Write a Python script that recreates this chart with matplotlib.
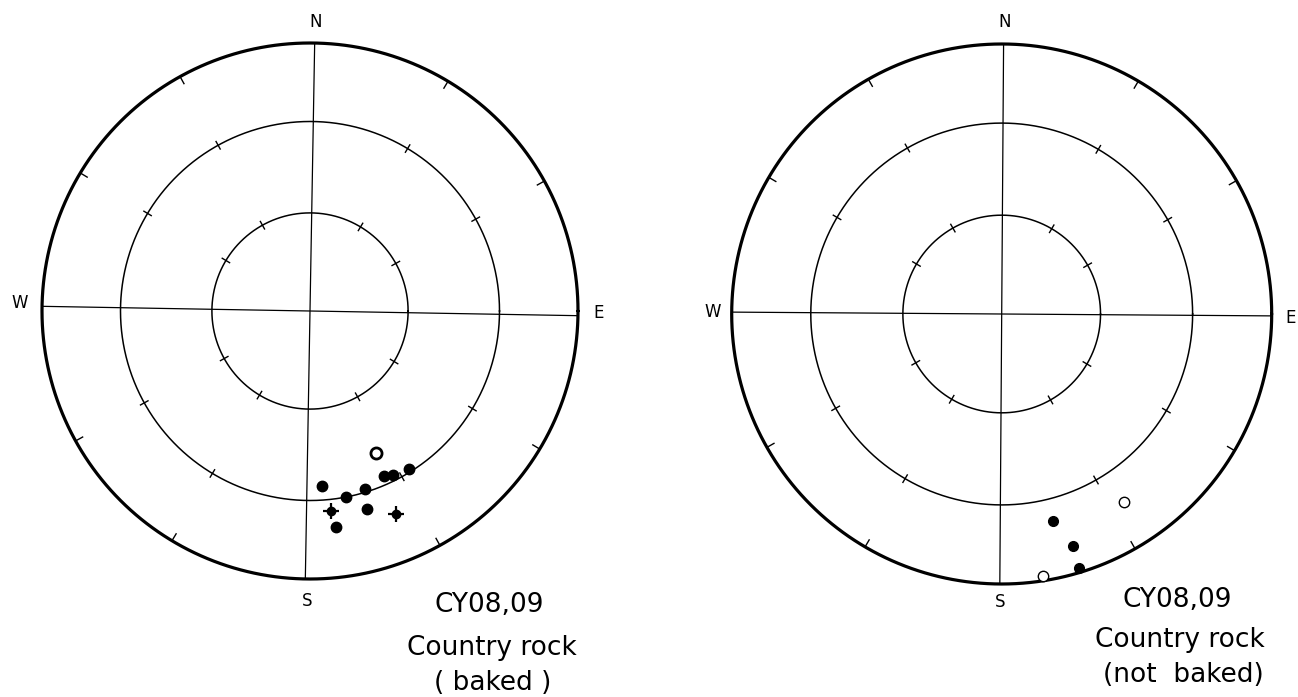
import numpy as np
import matplotlib
matplotlib.use("Agg")
import matplotlib.pyplot as plt

# ---------------- data (declination, inclination in degrees) ----------------
# Left net: CY08,09 country rock (baked)
baked_dec = [155, 156, 153, 148, 176, 163, 169, 164, 173]
baked_inc = [-41, 33, 32, 31, 35, 31, 30, 24, 20]          # negative = upper hemisphere (open)
baked_mean_dec = [174, 157]                                  # dot with cross
baked_mean_inc = [26, 19]

# Right net: CY08,09 country rock (not baked)
notbaked_dec = [147, 166, 163, 163, 171]
notbaked_inc = [-18, 22, 11, 2, -2]

cardinals = ["N", "E", "S", "W"]
titles = [["CY08,09", "Country rock", "( baked )"],
          ["CY08,09", "Country rock", "(not  baked)"]]

# ---------------- figure ----------------
W, H = 1298, 697
fig = plt.figure(figsize=(W / 100, H / 100), dpi=100)
fig.patch.set_facecolor("white")


def eqarea(dec, inc):
    dec = np.radians(np.asarray(dec, float))
    inc = np.abs(np.asarray(inc, float))
    r = np.sqrt(2.0) * np.sin(np.radians(90.0 - inc) / 2.0)
    return r * np.sin(dec), r * np.cos(dec)


def make_net(cx, cy, R, rot):
    span = 1.25
    ax = fig.add_axes([(cx - span * R) / W, (H - cy - span * R) / H,
                       2 * span * R / W, 2 * span * R / H])
    ax.set_xlim(-span, span)
    ax.set_ylim(-span, span)
    ax.set_aspect("equal")
    ax.axis("off")
    t = np.linspace(0, 2 * np.pi, 721)
    # outer primitive
    ax.plot(np.cos(t), np.sin(t), color="black", lw=2.3, solid_capstyle="round")
    # 30 and 60 degree inclination circles (equal-area)
    for inc in (30, 60):
        r = np.sqrt(2.0) * np.sin(np.radians(90 - inc) / 2)
        ax.plot(r * np.cos(t), r * np.sin(t), color="black", lw=1.1)
    # cross lines (scan is slightly rotated clockwise)
    a = np.radians(rot)
    for ang in (0, 90):
        th = np.radians(ang) + a
        ax.plot([-np.sin(th), np.sin(th)], [-np.cos(th), np.cos(th)],
                color="black", lw=0.9)
    # ticks every 30 degrees (not at cardinals)
    for az in range(30, 360, 30):
        if az % 90 == 0:
            continue
        th = np.radians(az) + a
        s, c = np.sin(th), np.cos(th)
        ax.plot([0.97 * s, 1.0 * s], [0.97 * c, 1.0 * c], color="black", lw=1.0)
        for inc in (30, 60):
            r = np.sqrt(2.0) * np.sin(np.radians(90 - inc) / 2)
            ax.plot([(r - 0.016) * s, (r + 0.016) * s],
                    [(r - 0.016) * c, (r + 0.016) * c], color="black", lw=1.0)
    return ax


def cardinal_labels(pos):
    for lab, (x, y) in zip(cardinals, pos):
        fig.text(x / W, 1 - y / H, lab, ha="center", va="center",
                 fontsize=12, family="DejaVu Sans")


def title_block(lines, xs, ys, size):
    for txt, x, y in zip(lines, xs, ys):
        fig.text(x / W, 1 - y / H, txt, ha="center", va="center",
                 fontsize=size, family="DejaVu Sans", fontweight="normal",
                 fontstretch="expanded")


def plot_dirs(ax, dec, inc, ms_solid=7.5, ms_open=8, open_lw=1.0):
    dec = np.asarray(dec, float)
    inc = np.asarray(inc, float)
    x, y = eqarea(dec, inc)
    down = inc >= 0
    ax.plot(x[down], y[down], "o", ms=ms_solid, mfc="black", mec="black",
            ls="none", zorder=5)
    ax.plot(x[~down], y[~down], "o", ms=ms_open, mfc="white", mec="black",
            mew=open_lw, ls="none", zorder=5)


# ---------------- left net ----------------
axL = make_net(310, 311, 268, rot=1.0)
plot_dirs(axL, baked_dec, baked_inc, ms_solid=7.5, ms_open=8, open_lw=2.0)
mx, my = eqarea(baked_mean_dec, baked_mean_inc)
axL.plot(mx, my, "o", ms=6, color="black", ls="none", zorder=6)
axL.plot(mx, my, "+", ms=12, mew=1.6, color="black", ls="none", zorder=6)
cardinal_labels([(316, 22), (599, 313), (307, 601), (20, 303)])
title_block(titles[0], [489, 492, 493], [605, 648, 683], 19)

# ---------------- right net ----------------
axR = make_net(1001.7, 314, 270, rot=0.4)
plot_dirs(axR, notbaked_dec, notbaked_inc, ms_solid=7, ms_open=7.5, open_lw=1.0)
cardinal_labels([(1005, 22), (1291, 318), (1000, 602), (713, 312)])
title_block(titles[1], [1177, 1180, 1183], [600, 640, 675], 19)

fig.savefig("out.png", dpi=100, facecolor="white")
